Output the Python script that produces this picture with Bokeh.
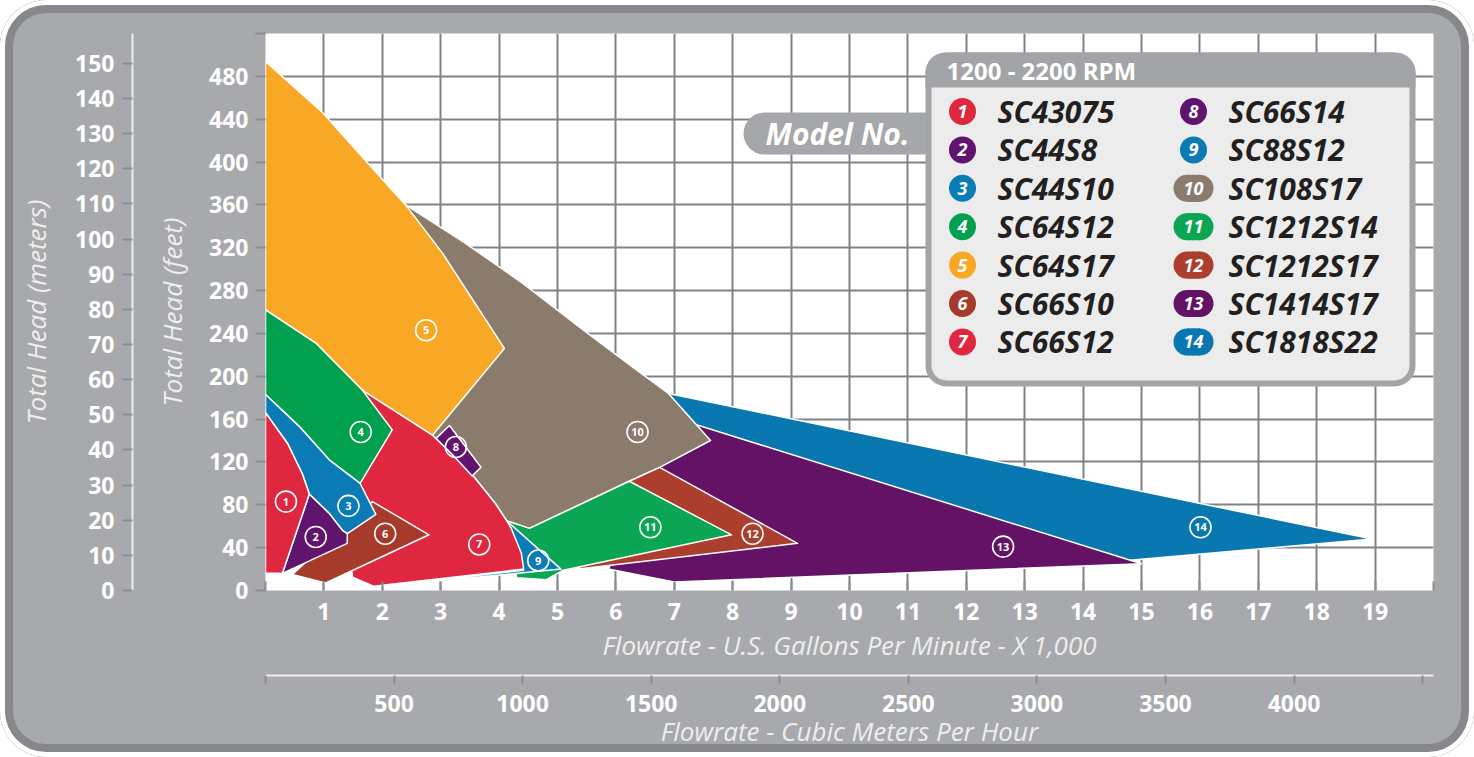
from bokeh.plotting import figure
from bokeh.models import (Range1d, LinearAxis, FixedTicker, Grid,
                          ColumnDataSource, BoxAnnotation)
from bokeh.core.properties import value
from bokeh.embed import file_html
from bokeh.resources import INLINE

# ------------------------------------------------------------------ data
model_names = ["SC43075", "SC44S8", "SC44S10", "SC64S12", "SC64S17", "SC66S10",
               "SC66S12", "SC66S14", "SC88S12", "SC108S17", "SC1212S14",
               "SC1212S17", "SC1414S17", "SC1818S22"]
model_numbers = ["1", "2", "3", "4", "5", "6", "7", "8", "9", "10", "11", "12",
                 "13", "14"]
model_colors = ["#df2840", "#60146e", "#0b7bb5", "#00a04f", "#f8a824", "#a63a2b",
                "#df2840", "#60146e", "#0b7bb5", "#8a7b6c", "#0aa653", "#ac3e2e",
                "#631265", "#0a78b0"]

# operating envelopes: flow (US GPM x 1,000) and total head (feet)
sc43075_q = [0, 0, 0.38, 0.63, 0.75, 0.29]
sc43075_h = [16, 166, 137, 109, 90, 16]
sc44s8_q = [0.29, 0.75, 1.09, 1.32, 1.40, 1.40]
sc44s8_h = [16, 90, 72, 56, 53, 44]
sc44s10_q = [0, 0, 0.58, 1.09, 1.62, 1.89, 1.40, 1.32, 1.09, 0.75, 0.63, 0.38]
sc44s10_h = [166, 183, 153, 122, 100, 71, 53, 56, 72, 90, 109, 137]
sc64s12_q = [0, 0, 0.86, 1.66, 2.17, 1.62, 1.09, 0.58]
sc64s12_h = [183, 262, 231, 187, 150, 100, 122, 153]
sc64s17_q = [0, 0, 0.98, 2.00, 2.40, 3.03, 4.09, 2.86, 1.66, 0.86]
sc64s17_h = [262, 494, 446, 384, 360, 315, 226, 145, 187, 231]
sc66s10_q = [0.46, 1.83, 2.80, 1.03]
sc66s10_h = [15, 83, 52, 7]
sc66s12_q = [1.66, 2.86, 3.20, 3.54, 3.94, 4.13, 4.20, 4.38, 4.42, 1.85, 1.49, 1.40, 1.35]
sc66s12_h = [187, 145, 127, 108, 81, 65, 59, 35, 20, 4, 12.5, 60, 100]
sc66s14_q = [2.92, 3.15, 3.69, 3.54, 3.20]
sc66s14_h = [142, 154, 115, 107, 127]
sc88s12_q = [4.13, 5.06, 1.85, 4.42]
sc88s12_h = [65, 20, 3, 19]
sc108s17_q = [2.40, 3.40, 4.40, 5.40, 6.30, 6.90, 7.62, 6.75, 6.23, 4.52, 4.13,
              3.94, 3.54, 3.20, 2.86]
sc108s17_h = [360, 325, 287, 245, 208, 184, 140, 115, 102, 58, 65, 81, 108, 127, 145]
sc1212s14_q = [4.13, 4.52, 6.23, 7.98, 5.10, 4.80, 4.30]
sc1212s14_h = [65, 58, 102, 52, 19, 10, 12]
sc1212s17_q = [6.23, 6.75, 9.11, 5.36]
sc1212s17_h = [102, 115, 44, 20]
sc1414s17_q = [7.30, 15.00, 7.00, 5.87, 6.75]
sc1414s17_h = [156, 25, 8, 20, 115]
sc1818s22_q = [6.90, 18.95, 14.75, 7.30]
sc1818s22_h = [184, 48, 28, 156]

# where each envelope's number is printed
label_q = [0.35, 0.86, 1.42, 1.63, 2.75, 2.05, 3.66, 3.26, 4.67, 6.37, 6.59, 8.34, 12.63, 16.01]
label_h = [83, 50, 79, 148, 243, 53, 43, 134, 28, 148, 59, 53, 41, 59]

# axes
gpm_ticks = [1, 2, 3, 4, 5, 6, 7, 8, 9, 10, 11, 12, 13, 14, 15, 16, 17, 18, 19]
gpm_edge_ticks = [0, 20]
feet_ticks = [0, 40, 80, 120, 160, 200, 240, 280, 320, 360, 400, 440, 480]
feet_edge_ticks = [520]
meter_ticks = [0, 10, 20, 30, 40, 50, 60, 70, 80, 90, 100, 110, 120, 130, 140, 150]
m3h_ticks = [500, 1000, 1500, 2000, 2500, 3000, 3500, 4000]
m3h_edge_ticks = [0, 4500]
legend_title = "1200 - 2200 RPM"
legend_tab = "Model No."

FT_PER_M = 3.28084
GPM_PER_M3H = 4.402868
Q_MAX, H_MAX = 20, 520

envelopes_q = [sc43075_q, sc44s8_q, sc44s10_q, sc64s12_q, sc64s17_q, sc66s10_q,
               sc66s12_q, sc66s14_q, sc88s12_q, sc108s17_q, sc1212s14_q,
               sc1212s17_q, sc1414s17_q, sc1818s22_q]
envelopes_h = [sc43075_h, sc44s8_h, sc44s10_h, sc64s12_h, sc64s17_h, sc66s10_h,
               sc66s12_h, sc66s14_h, sc88s12_h, sc108s17_h, sc1212s14_h,
               sc1212s17_h, sc1414s17_h, sc1818s22_h]
draw_order = [13, 12, 9, 11, 10, 8, 6, 7, 5, 4, 3, 2, 1, 0]

# ------------------------------------------------------------------ layout
W, H = 1474, 757
FL, FR, FT, FB = 265, 41, 33, 167
FONT = "Open Sans"


def qx(px):  # canvas pixel -> flow units (legend placement only)
    return (px - FL) * Q_MAX / (W - FL - FR)


def hy(py):  # canvas pixel -> head units (legend placement only)
    return (H - FB - py) * H_MAX / (H - FT - FB)


p = figure(width=W, height=H, x_range=Range1d(0, Q_MAX), y_range=Range1d(0, H_MAX),
           x_axis_type=None, y_axis_type=None, toolbar_location=None,
           output_backend="svg", min_border_left=FL, min_border_right=FR,
           min_border_top=FT, min_border_bottom=FB,
           background_fill_color="white", border_fill_color=None,
           outline_line_color=None,
           styles={"background-color": "#a7a9ac", "border-radius": "46px",
                   "box-shadow": "inset 0 0 0 5px #ffffff, inset 0 0 0 13px #86888b"})
p.extra_y_ranges = {"m": Range1d(0, H_MAX / FT_PER_M)}
p.extra_x_ranges = {"m3h": Range1d(0, Q_MAX * 1000 / GPM_PER_M3H)}

grid_col = "#808285"
p.add_layout(Grid(dimension=0, ticker=FixedTicker(ticks=gpm_edge_ticks[:1] + gpm_ticks + gpm_edge_ticks[1:]),
                  grid_line_color=grid_col, grid_line_width=2), "center")
p.add_layout(Grid(dimension=1, ticker=FixedTicker(ticks=feet_ticks[1:] + feet_edge_ticks),
                  grid_line_color=grid_col, grid_line_width=2), "center")

tick_gray = "#8b8d90"
title_col = "#eeeeee"


def style_axis(ax):
    ax.major_label_text_font = FONT
    ax.major_label_text_font_style = "bold"
    ax.major_label_text_font_size = "23px"
    ax.major_label_text_color = "white"
    ax.axis_label_text_font = FONT
    ax.axis_label_text_font_style = "italic"
    ax.axis_label_text_font_size = "26px"
    ax.axis_label_text_color = title_col
    ax.major_tick_line_color = tick_gray
    ax.major_tick_line_width = 2
    ax.minor_tick_line_color = tick_gray
    ax.minor_tick_line_width = 2
    return ax


def spacer(size):
    # an empty guide that only reserves `size` pixels between two axes
    return LinearAxis(ticker=FixedTicker(ticks=[0]), axis_line_color=None,
                      major_tick_line_color=None, minor_tick_line_color=None,
                      major_tick_out=size, major_tick_in=0, minor_tick_out=0,
                      minor_tick_in=0, major_label_standoff=0,
                      major_label_text_color=None, major_label_text_font_size="1px")


feet_axis = style_axis(LinearAxis(
    ticker=FixedTicker(ticks=feet_ticks, minor_ticks=feet_edge_ticks),
    axis_label="Total Head (feet)", axis_line_color=None,
    major_tick_out=10, major_tick_in=0, minor_tick_out=10, minor_tick_in=0,
    major_label_standoff=7, axis_label_standoff=16))
meter_axis = style_axis(LinearAxis(
    y_range_name="m", ticker=FixedTicker(ticks=meter_ticks),
    axis_label="Total Head (meters)", axis_line_color="#ededed", axis_line_width=2,
    major_tick_out=10, major_tick_in=0, major_label_standoff=8,
    axis_label_standoff=18))
p.add_layout(feet_axis, "left")
p.add_layout(spacer(19), "left")
p.add_layout(meter_axis, "left")

gpm_axis = style_axis(LinearAxis(
    ticker=FixedTicker(ticks=gpm_ticks, minor_ticks=gpm_edge_ticks),
    axis_label="Flowrate - U.S. Gallons Per Minute - X 1,000", axis_line_color=None,
    major_tick_in=9, major_tick_out=0, minor_tick_in=9, minor_tick_out=0,
    major_label_standoff=12, axis_label_standoff=4))
m3h_axis = style_axis(LinearAxis(
    x_range_name="m3h", ticker=FixedTicker(ticks=m3h_ticks, minor_ticks=m3h_edge_ticks),
    axis_label="Flowrate - Cubic Meters Per Hour", axis_line_color="#ededed",
    axis_line_width=2, major_tick_out=8, major_tick_in=0, minor_tick_out=8,
    minor_tick_in=0, major_label_standoff=11, axis_label_standoff=-2))
p.add_layout(gpm_axis, "below")
p.add_layout(spacer(10), "below")
p.add_layout(m3h_axis, "below")

# ------------------------------------------------------------------ envelopes
env_src = ColumnDataSource(dict(
    xs=[envelopes_q[i] for i in draw_order],
    ys=[envelopes_h[i] for i in draw_order],
    color=[model_colors[i] for i in draw_order]))
p.patches("xs", "ys", source=env_src, fill_color="color", line_color="white",
          line_width=1.5, line_join="round")

lab_src = ColumnDataSource(dict(x=label_q, y=label_h, t=model_numbers))
p.scatter("x", "y", source=lab_src, marker="circle", size=21, fill_color=None,
          line_color="white", line_width=1.6)
p.text("x", "y", text="t", source=lab_src, text_font=value(FONT),
       text_font_style="bold", text_font_size="11px", text_color="white",
       text_align="center", text_baseline="middle")

# ------------------------------------------------------------------ legend
p.add_layout(BoxAnnotation(left=qx(743), right=qx(960), top=hy(112), bottom=hy(154),
                           fill_color="#a5a7aa", fill_alpha=1, line_color=None,
                           border_radius=21))
p.add_layout(BoxAnnotation(left=qx(928), right=qx(1412), top=hy(55), bottom=hy(383),
                           fill_color="#ececec", fill_alpha=1, line_color="#a2a4a7",
                           line_alpha=1, line_width=6, border_radius=18))
p.add_layout(BoxAnnotation(left=qx(925), right=qx(1415), top=hy(52), bottom=hy(87),
                           fill_color="#a2a4a7", fill_alpha=1, line_color=None,
                           border_radius=(20, 20, 0, 0)))

p.text("x", "y", text="t",
       source=ColumnDataSource(dict(x=[qx(946)], y=[hy(70)], t=[legend_title])),
       text_font=value(FONT), text_font_style="bold", text_font_size="24px",
       text_color="white", text_align="left", text_baseline="middle", level="overlay")
p.text("x", "y", text="t",
       source=ColumnDataSource(dict(x=[qx(837)], y=[hy(133)], t=[legend_tab])),
       text_font=value(FONT), text_font_style="bold italic", text_font_size="30px",
       text_color="white", text_align="center", text_baseline="middle", level="overlay")

n = len(model_names)
rows = [i % 7 for i in range(n)]
cols = [i // 7 for i in range(n)]
badge_px = [962 + 231 * c for c in cols]
text_px = [997 + 231 * c for c in cols]
row_py = [111 + 38.4 * r for r in rows]
leg_src = ColumnDataSource(dict(
    bx=[qx(v) for v in badge_px], tx=[qx(v) for v in text_px],
    y=[hy(v) for v in row_py], name=model_names, num=model_numbers,
    color=model_colors))
two = [i for i in range(n) if len(model_numbers[i]) > 1]
wide_src = ColumnDataSource(dict(
    xl=[qx(badge_px[i] - 6.5) for i in two], xr=[qx(badge_px[i] + 6.5) for i in two],
    x=[qx(badge_px[i]) for i in two], y=[hy(row_py[i]) for i in two],
    color=[model_colors[i] for i in two]))
p.scatter("bx", "y", source=leg_src, marker="circle", size=27, fill_color="color",
          line_color=None, level="overlay")
p.scatter("xl", "y", source=wide_src, marker="circle", size=27, fill_color="color",
          line_color=None, level="overlay")
p.scatter("xr", "y", source=wide_src, marker="circle", size=27, fill_color="color",
          line_color=None, level="overlay")
p.rect("x", "y", width=13, height=27, width_units="screen", height_units="screen",
       source=wide_src, fill_color="color", line_color=None, level="overlay")
p.text("bx", "y", text="num", source=leg_src, text_font=value(FONT),
       text_font_style="bold italic", text_font_size="18px", text_color="white",
       text_align="center", text_baseline="middle", level="overlay")
p.text("tx", "y", text="name", source=leg_src, text_font=value(FONT),
       text_font_style="bold italic", text_font_size="30px", text_color="#231f20",
       text_align="left", text_baseline="middle", level="overlay")

open("out.html", "w").write(file_html(p, INLINE))
